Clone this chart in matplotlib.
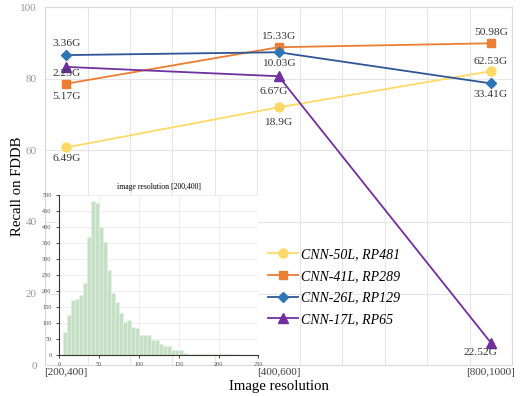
import numpy as np
import matplotlib.pyplot as plt

## Data
categories = ['[200,400]', '[400,600]', '[800,1000]']
series_names = ['CNN-50L, RP481', 'CNN-41L, RP289', 'CNN-26L, RP129', 'CNN-17L, RP65']
recall_50 = [60.8, 72.0, 82.1]
recall_41 = [78.6, 88.8, 89.9]
recall_26 = [86.6, 87.4, 78.7]
recall_17 = [83.3, 80.7, 6.3]
flops_50 = ['6.49G', '18.9G', '62.53G']
flops_41 = ['5.17G', '15.33G', '50.98G']
flops_26 = ['3.36G', '10.03G', '33.41G']
flops_17 = ['2.25G', '6.67G', '22.52G']

## Histogram of face sizes for the [200,400] inset (bins of 5, starting at 5)
hist_edges = np.arange(5, 255, 5)
hist_counts = [71, 126, 172, 175, 188, 226, 368, 480, 474, 401,
               353, 264, 193, 166, 132, 104, 109, 86, 85, 63,
               62, 61, 47, 45, 33, 29, 28, 16, 14, 14,
               7, 3, 3, 4, 1, 2, 1, 1, 1, 2,
               1, 1, 1, 1, 0, 0, 0, 0, 0]

plt.rcParams['font.family'] = ['Liberation Serif', 'DejaVu Serif']

fig = plt.figure(figsize=(5.24, 3.96), dpi=100)
ax = fig.add_axes([0.086, 0.078, 0.891, 0.904])

x = np.array([0.5, 5.5, 10.5])
styles = [
    (recall_50, flops_50, '#FFD966', '#FFD966', 'o', 6.5),
    (recall_41, flops_41, '#ED7D31', '#ED7D31', 's', 6),
    (recall_26, flops_26, '#2F5597', '#2E75B6', 'D', 5),
    (recall_17, flops_17, '#7030A0', '#7030A0', '^', 6.5),
]
handles = []
for (vals, labs, lc, mc, mk, ms), name in zip(styles, series_names):
    h, = ax.plot(x, vals, color=lc, lw=1.3, marker=mk, ms=ms,
                 markerfacecolor=mc, markeredgecolor=mc, label=name, zorder=3)
    handles.append(h)

## label offsets in pixels (dx, dy) for each point
offsets = [
    [(0, -11), (0, -15), (0, 10)],
    [(0, -13), (0, 11), (0, 11)],
    [(0, 12), (0, -11), (0, -11)],
    [(0, -7), (-5, -15), (-10, -10)],
]
for (vals, labs, *_), offs in zip(styles, offsets):
    for xi, v, t, (dx, dy) in zip(x, vals, labs, offs):
        ax.annotate(t, (xi, v), xytext=(dx, dy), textcoords='offset pixels',
                    ha='center', va='center', fontsize=8.2, color='#333333')

ax.set_xlim(0, 11)
ax.set_ylim(0, 100)
ax.set_xticks(np.arange(0, 12), minor=True)
ax.set_xticks(x)
ax.set_xticklabels(categories, fontsize=8, color='#404040')
ax.set_yticks([0, 20, 40, 60, 80, 100])
ax.tick_params(axis='y', labelsize=8, labelcolor='#999999', length=0, pad=6)
ax.tick_params(axis='x', length=0, which='both', pad=2)
ax.grid(True, which='minor', axis='x', color='#e6e6e6', lw=0.8)
ax.grid(True, which='major', axis='y', color='#e6e6e6', lw=0.8)
ax.set_axisbelow(True)
for s in ax.spines.values():
    s.set_color('#d9d9d9')
ax.set_xlabel('Image resolution', fontsize=10.6)
ax.set_ylabel('Recall on FDDB', fontsize=10.6)
ax.xaxis.set_label_coords(0.5, -0.042)
ax.yaxis.set_label_coords(-0.045, 0.5)

ax.legend(handles=handles, loc='center left', bbox_to_anchor=(0.465, 0.218),
          borderaxespad=0, frameon=False, prop={'style': 'italic', 'size': 10},
          handlelength=2.2, handletextpad=0.2, labelspacing=0.63)

## inset histogram
ins = fig.add_axes([0.113, 0.104, 0.380, 0.404])
ins.bar(hist_edges[:-1], hist_counts, width=5, align='edge',
        color='#c5e0c5', edgecolor='#e4f1e4', lw=0.4)
ins.set_xlim(0, 250)
ins.set_ylim(0, 500)
ins.set_xticks(np.arange(0, 251, 50))
ins.set_yticks(np.arange(0, 501, 50))
ins.tick_params(labelsize=4.5, labelcolor='#555555', length=2, width=0.5)
ins.grid(True, color='#ececec', lw=0.6)
ins.set_axisbelow(True)
for side in ['top', 'right']:
    ins.spines[side].set_visible(False)
for side in ['left', 'bottom']:
    ins.spines[side].set_color('#333333')
    ins.spines[side].set_linewidth(0.8)
ins.set_title('image resolution [200,400]', fontsize=5.6, pad=4)

fig.savefig('out.png', dpi=100)
